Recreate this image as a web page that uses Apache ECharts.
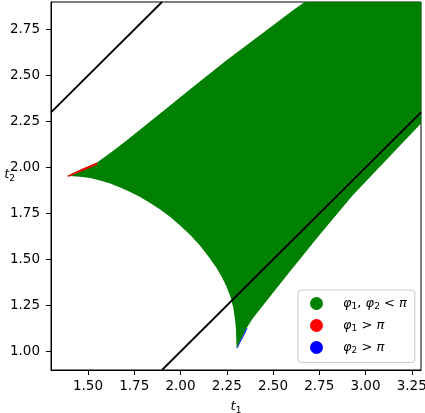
<!DOCTYPE html>
<html>
<head>
<meta charset="utf-8">
<script src="https://cdn.jsdelivr.net/npm/echarts@6/dist/echarts.min.js"></script>
<style>html,body{margin:0;padding:0;background:#fff;}#c{width:425px;height:413px;}</style>
</head>
<body>
<div id="c"></div>
<script>
// axis ranges and ticks
const xRange = [1.3, 3.3];
const yRange = [0.9, 2.9];
const xTicks = [1.5, 1.75, 2.0, 2.25, 2.5, 2.75, 3.0, 3.25];
const yTicks = [1.0, 1.25, 1.5, 1.75, 2.0, 2.25, 2.5, 2.75];

// boundary of the phi1, phi2 < pi region
const upperEdge = [[1.387,1.954],[1.46,1.99],[1.549,2.028],[1.629,2.086],[1.710,2.149],[1.890,2.294],[2.069,2.439],[2.249,2.583],[2.429,2.719],[2.608,2.855],[2.671,2.9]];
const topRightCorner = [[3.3,2.9]];
const rightEdge = [[3.3,2.24],[3.12,2.05],[2.93,1.848],[2.75,1.632],[2.57,1.408],[2.39,1.18],[2.357,1.127],[2.303,1.018]];
const lowerArc = [[2.300,1.120],[2.294,1.180],[2.285,1.240],[2.270,1.298],[2.249,1.353],[2.225,1.403],[2.195,1.455],[2.150,1.518],[2.105,1.576],[2.050,1.636],[1.998,1.686],[1.945,1.731],[1.890,1.772],[1.836,1.808],[1.782,1.840],[1.728,1.868],[1.674,1.892],[1.620,1.913],[1.566,1.930],[1.512,1.943],[1.458,1.950],[1.420,1.953]];

// phi1 > pi sliver and phi2 > pi sliver
const redSliver = [[1.387,1.954],[1.46,1.99],[1.549,2.028],[1.549,2.015],[1.46,1.978],[1.395,1.950]];
const blueSliver = [[2.303,1.018],[2.357,1.127],[2.363,1.127],[2.308,1.018]];

// diagonal reference lines
const lineUpper = [[1.3,2.3],[1.9,2.9]];
const lineLower = [[1.9,0.9],[3.3,2.3]];

const greenPoly = upperEdge.concat(topRightCorner, rightEdge, lowerArc);

const FONT = 'DejaVu Sans';
const rich = {
  f: {fontFamily: FONT, fontStyle: 'italic', fontSize: 13, color: '#000', lineHeight: 16, padding: [0, 0, 0, 15]},
  i: {fontFamily: FONT, fontStyle: 'italic', fontSize: 13, color: '#000', lineHeight: 16},
  n: {fontFamily: FONT, fontSize: 13, color: '#000', lineHeight: 16},
  s: {fontFamily: FONT, fontSize: 9, color: '#000', verticalAlign: 'bottom', lineHeight: 13}
};
const legendLabels = {
  'g': '{f|φ}{s|1}{n|, }{i|φ}{s|2}{n| < }{i|π}',
  'r': '{f|φ}{s|1}{n| > }{i|π}',
  'b': '{f|φ}{s|2}{n| > }{i|π}'
};

function polySeries(name, pts, color, z) {
  return {
    name: name, type: 'custom', z: z, clip: true,
    itemStyle: {color: color},
    data: pts,
    renderItem: function (params, api) {
      if (params.dataIndex !== 0) return null;
      return {type: 'polygon', shape: {points: pts.map(p => api.coord(p))}, style: {fill: color}, silent: true};
    }
  };
}

const chart = echarts.init(document.getElementById('c'), null, {renderer: 'canvas'});
chart.setOption({
  animation: false,
  backgroundColor: '#fff',
  grid: {left: 51, right: 4, top: 2, bottom: 43, containLabel: false, outerBoundsMode: 'none',
    show: true, borderColor: '#000', borderWidth: 1, backgroundColor: 'transparent'},
  xAxis: {
    type: 'value', min: xRange[0], max: xRange[1],
    axisLine: {show: true, lineStyle: {color: '#000', width: 1}},
    axisTick: {show: true, length: 5, customValues: xTicks, lineStyle: {color: '#000'}},
    axisLabel: {customValues: xTicks, margin: 9, color: '#000', fontFamily: FONT, fontSize: 13.5, formatter: v => v.toFixed(2)},
    splitLine: {show: false},
    name: '{i|t}{s|1}', nameLocation: 'middle', nameGap: 29, nameMoveOverlap: false,
    nameTextStyle: {rich: rich}
  },
  yAxis: {
    type: 'value', min: yRange[0], max: yRange[1],
    axisLine: {show: true, lineStyle: {color: '#000', width: 1}},
    axisTick: {show: true, length: 5, customValues: yTicks, lineStyle: {color: '#000'}},
    axisLabel: {customValues: yTicks, margin: 11, color: '#000', fontFamily: FONT, fontSize: 13.5, formatter: v => v.toFixed(2)},
    splitLine: {show: false},
    name: '{i|t}{s|2}', nameLocation: 'middle', nameRotate: 0, nameGap: 36, nameMoveOverlap: false,
    nameTextStyle: {rich: rich, align: 'right', padding: [0, 0, 22, 0]}
  },
  legend: {
    data: ['g', 'r', 'b'],
    orient: 'vertical', left: 298, top: 290,
    icon: 'circle', itemWidth: 13, itemHeight: 13, itemGap: 7.5,
    padding: [7, 8, 7, 12],
    backgroundColor: 'rgba(255,255,255,0.8)', borderColor: '#cccccc', borderWidth: 1, borderRadius: 3,
    formatter: name => legendLabels[name],
    textStyle: {rich: rich}
  },
  series: [
    polySeries('g', greenPoly, '#008000', 1),
    polySeries('r', redSliver, '#ff0000', 2),
    polySeries('b', blueSliver, '#0000ff', 2),
    {type: 'line', data: lineUpper, symbol: 'none', z: 3, lineStyle: {color: '#000', width: 1.8}, silent: true},
    {type: 'line', data: lineLower, symbol: 'none', z: 3, lineStyle: {color: '#000', width: 1.8}, silent: true}
  ]
});
</script>
</body>
</html>
